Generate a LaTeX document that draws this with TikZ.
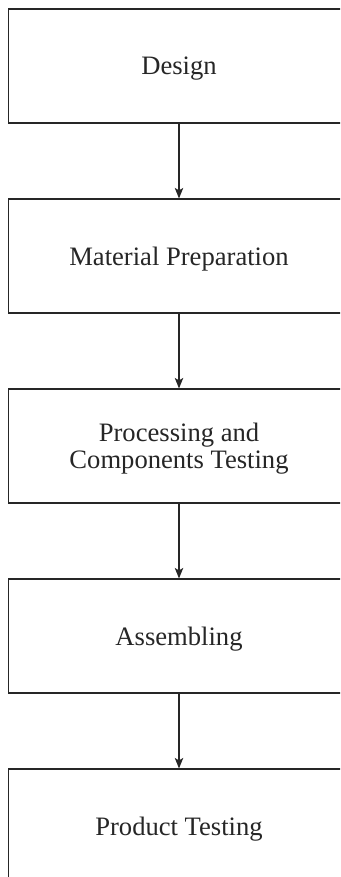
\documentclass[tikz,border=0pt]{standalone}
\usepackage{fontspec}
\setmainfont{Liberation Serif}
\usetikzlibrary{arrows.meta}
\definecolor{ink}{HTML}{262626}
\begin{document}
\begin{tikzpicture}[x=1pt,y=1pt,
  stagebox/.style={draw=ink, line width=1.2pt, rectangle,
    minimum width=341pt, minimum height=114pt, inner sep=0pt,
    align=center, text=ink, text depth=0pt,
    font=\fontsize{26.6pt}{27pt}\selectfont},
  flow/.style={draw=ink, line width=1.1pt,
    -{Stealth[length=10.5pt,width=8.5pt,inset=2.5pt]}}]
  \useasboundingbox (0,0) rectangle (340,-877);
  \clip (0,0) rectangle (340,-877);
  \fill[white] (0,0) rectangle (340,-877);

  % process stages, top to bottom
  \node[stagebox] (design)   at (179,-66)  {Design};
  \node[stagebox] (material) at (179,-256) {Material Preparation};
  \node[stagebox] (process)  at (179,-446) {Processing and\\Components Testing};
  \node[stagebox] (assemble) at (179,-636) {Assembling};
  \node[stagebox] (product)  at (179,-826) {Product Testing};

  % connectors
  \draw[flow] (design.south)   -- (material.north);
  \draw[flow] (material.south) -- (process.north);
  \draw[flow] (process.south)  -- (assemble.north);
  \draw[flow] (assemble.south) -- (product.north);
\end{tikzpicture}
\end{document}
